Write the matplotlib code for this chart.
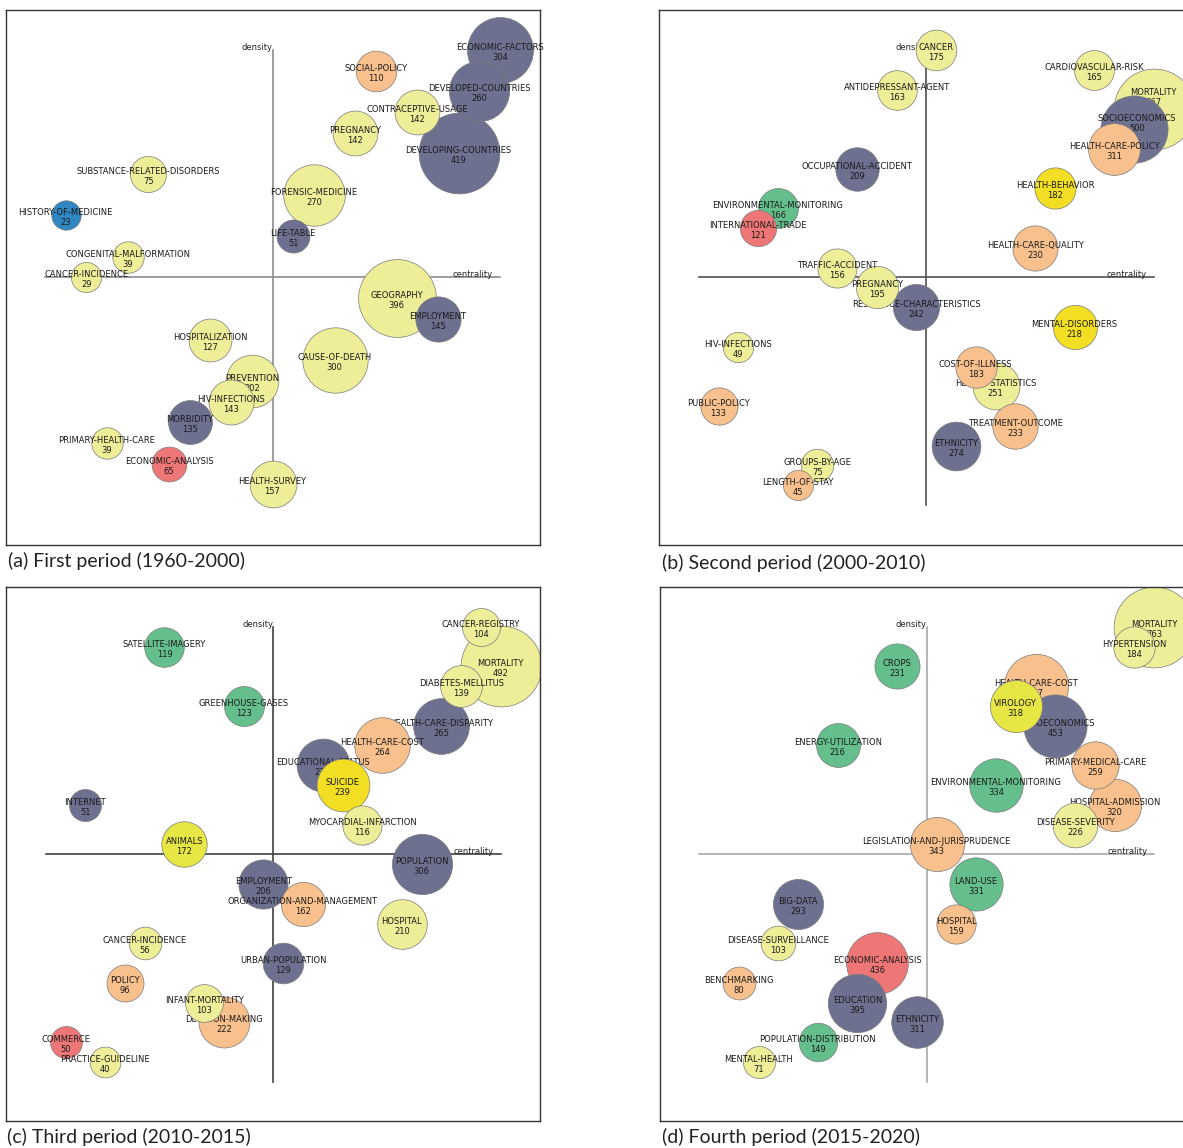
import numpy as np
import matplotlib.pyplot as plt

# strategic diagrams, four periods
# each theme: name, number of documents, centrality rank, density rank, cluster group

names_a = ["ECONOMIC-FACTORS", "SOCIAL-POLICY", "DEVELOPED-COUNTRIES", "CONTRACEPTIVE-USAGE",
           "PREGNANCY", "DEVELOPING-COUNTRIES", "SUBSTANCE-RELATED-DISORDERS", "FORENSIC-MEDICINE",
           "HISTORY-OF-MEDICINE", "LIFE-TABLE", "CONGENITAL-MALFORMATION", "CANCER-INCIDENCE",
           "GEOGRAPHY", "EMPLOYMENT", "HOSPITALIZATION", "CAUSE-OF-DEATH", "PREVENTION",
           "HIV-INFECTIONS", "MORBIDITY", "PRIMARY-HEALTH-CARE", "ECONOMIC-ANALYSIS", "HEALTH-SURVEY"]
docs_a = [304, 110, 260, 142, 142, 419, 75, 270, 23, 51, 39, 29, 396, 145, 127, 300, 202, 143, 135, 39, 65, 157]
cent_a = [22, 16, 21, 18, 15, 20, 5, 13, 1, 12, 4, 2, 17, 19, 8, 14, 10, 9, 7, 3, 6, 11]
dens_a = [22, 21, 20, 19, 18, 17, 16, 15, 14, 13, 12, 11, 10, 9, 8, 7, 6, 5, 4, 3, 2, 1]
group_a = ["slate", "orange", "slate", "khaki", "khaki", "slate", "khaki", "khaki", "blue", "slate",
           "khaki", "khaki", "khaki", "slate", "khaki", "khaki", "khaki", "khaki", "slate", "khaki",
           "red", "khaki"]

names_b = ["CANCER", "CARDIOVASCULAR-RISK", "ANTIDEPRESSANT-AGENT", "MORTALITY", "SOCIOECONOMICS",
           "HEALTH-CARE-POLICY", "OCCUPATIONAL-ACCIDENT", "HEALTH-BEHAVIOR", "ENVIRONMENTAL-MONITORING",
           "INTERNATIONAL-TRADE", "HEALTH-CARE-QUALITY", "TRAFFIC-ACCIDENT", "PREGNANCY",
           "RESIDENCE-CHARACTERISTICS", "MENTAL-DISORDERS", "HIV-INFECTIONS", "COST-OF-ILLNESS",
           "HEALTH-STATISTICS", "PUBLIC-POLICY", "TREATMENT-OUTCOME", "ETHNICITY", "GROUPS-BY-AGE",
           "LENGTH-OF-STAY"]
docs_b = [175, 165, 163, 667, 500, 311, 209, 182, 166, 121, 230, 156, 195, 242, 218, 49, 183, 251, 133, 233, 274, 75, 45]
cent_b = [12, 20, 10, 23, 22, 21, 8, 18, 4, 3, 17, 7, 9, 11, 19, 2, 14, 15, 1, 16, 13, 6, 5]
dens_b = [23, 22, 21, 20, 19, 18, 17, 16, 15, 14, 13, 12, 11, 10, 9, 8, 7, 6, 5, 4, 3, 2, 1]
group_b = ["khaki", "khaki", "khaki", "khaki", "slate", "orange", "slate", "gold", "green", "red",
           "orange", "khaki", "khaki", "slate", "gold", "khaki", "orange", "khaki", "orange", "orange",
           "slate", "khaki", "orange"]

names_c = ["CANCER-REGISTRY", "SATELLITE-IMAGERY", "MORTALITY", "DIABETES-MELLITUS", "GREENHOUSE-GASES",
           "HEALTH-CARE-DISPARITY", "HEALTH-CARE-COST", "EDUCATIONAL-STATUS", "SUICIDE", "INTERNET",
           "MYOCARDIAL-INFARCTION", "ANIMALS", "POPULATION", "EMPLOYMENT", "ORGANIZATION-AND-MANAGEMENT",
           "HOSPITAL", "CANCER-INCIDENCE", "URBAN-POPULATION", "POLICY", "INFANT-MORTALITY",
           "DECISION-MAKING", "COMMERCE", "PRACTICE-GUIDELINE"]
docs_c = [104, 119, 492, 139, 123, 265, 264, 239, 239, 51, 116, 172, 306, 206, 162, 210, 56, 129, 96, 103, 222, 50, 40]
cent_c = [22, 6, 23, 21, 10, 20, 17, 14, 15, 2, 16, 7, 19, 11, 13, 18, 5, 12, 4, 8, 9, 1, 3]
dens_c = [23, 22, 21, 20, 19, 18, 17, 16, 15, 14, 13, 12, 11, 10, 9, 8, 7, 6, 5, 4, 3, 2, 1]
group_c = ["khaki", "green", "khaki", "khaki", "green", "slate", "orange", "slate", "gold", "slate",
           "khaki", "lime", "slate", "slate", "orange", "khaki", "khaki", "slate", "orange", "khaki",
           "orange", "red", "khaki"]

names_d = ["MORTALITY", "HYPERTENSION", "CROPS", "HEALTH-CARE-COST", "VIROLOGY", "SOCIOECONOMICS",
           "ENERGY-UTILIZATION", "PRIMARY-MEDICAL-CARE", "ENVIRONMENTAL-MONITORING", "HOSPITAL-ADMISSION",
           "DISEASE-SEVERITY", "LEGISLATION-AND-JURISPRUDENCE", "LAND-USE", "BIG-DATA", "HOSPITAL",
           "DISEASE-SURVEILLANCE", "ECONOMIC-ANALYSIS", "BENCHMARKING", "EDUCATION", "ETHNICITY",
           "POPULATION-DISTRIBUTION", "MENTAL-HEALTH"]
docs_d = [763, 184, 231, 467, 318, 453, 216, 259, 334, 320, 226, 343, 331, 293, 159, 103, 436, 80, 395, 311, 149, 71]
cent_d = [23, 22, 10, 17, 16, 18, 7, 20, 15, 21, 19, 12, 14, 5, 13, 4, 9, 2, 8, 11, 6, 3]
dens_d = [23, 22, 21, 20, 19, 18, 17, 16, 15, 14, 13, 12, 10, 9, 8, 7, 6, 5, 4, 3, 2, 1]
group_d = ["khaki", "khaki", "green", "orange", "lime", "slate", "green", "orange", "green", "orange",
           "khaki", "orange", "green", "slate", "orange", "khaki", "red", "orange", "slate", "slate",
           "green", "khaki"]

n_themes = [22, 23, 23, 23]          # themes ranked in each period
size_ref = [419, 667, 492, 672]      # documents giving the largest bubble
captions = ["(a) First period (1960-2000)", "(b) Second period (2000-2010)",
            "(c) Third period (2010-2015)", "(d) Fourth period (2015-2020)"]

colors = {"slate": "#6e7090", "khaki": "#eeed98", "orange": "#f8c08c", "red": "#ef7676",
          "blue": "#2f86c0", "green": "#64bf8c", "gold": "#f2df24", "lime": "#e6e645"}

# labels moved off the bubble centre in the original (points)
label_shift = {(1, "MORTALITY"): (0, 10), (1, "SOCIOECONOMICS"): (2, 5.5)}

W, H = 1183, 1148
fig = plt.figure(figsize=(W / 100, H / 100), dpi=100)

# axes boxes in pixels (left, top), side 534
boxes = [(5.5, 10.5), (659.3, 10.5), (6.3, 587.3), (659.7, 587.3)]
cap_pos = [(7.5, 561), (661.5, 562.5), (7, 1137), (661.5, 1137)]
line_col = ["#8c8c8c", "#505050", "#404040", "#a8a8a8"]
side = 534.0
half = side / 2 / 455.0   # lines span -0.5..0.5 (455 px)
fs = 6.0

panels = [(names_a, docs_a, cent_a, dens_a, group_a),
          (names_b, docs_b, cent_b, dens_b, group_b),
          (names_c, docs_c, cent_c, dens_c, group_c),
          (names_d, docs_d, cent_d, dens_d, group_d)]

for k, (names, docs, cent, dens, group) in enumerate(panels):
    left, top = boxes[k]
    ax = fig.add_axes([left / W, 1 - (top + side) / H, side / W, side / H])
    ax.set_xlim(-half, half)
    ax.set_ylim(-half, half)
    ax.set_xticks([])
    ax.set_yticks([])
    for sp in ax.spines.values():
        sp.set_color("#333333")
        sp.set_linewidth(1.0)

    # axes of the strategic diagram
    ax.plot([-0.5, 0.5], [0, 0], color=line_col[k], lw=1.2, zorder=1)
    ax.plot([0, 0], [-0.5, 0.5], color=line_col[k], lw=1.2, zorder=1)
    ax.text(0, 0.5, "density", ha="right", va="baseline", fontsize=fs, color="#222222", zorder=1)
    ax.text(0.5 - 7 / 455, 0, "centrality", ha="right", va="baseline", fontsize=fs,
            color="#222222", zorder=1)

    N = n_themes[k]
    x = np.array(cent) / N - 0.5
    y = np.array(dens) / N - 0.5
    docs = np.array(docs)
    r_px = 13.2 + 27.2 * np.minimum(docs / size_ref[k], 1.0)

    order = sorted(range(len(names)), key=lambda i: -docs[i])   # big bubbles at the back
    for j, i in enumerate(order):
        z = 2 + 2 * j
        dx, dy = label_shift.get((k, names[i]), (0, 0))
        ax.scatter(x[i], y[i], s=(1.44 * r_px[i]) ** 2, color=colors[group[i]],
                   edgecolor="#7a7a7a", linewidth=0.5, zorder=z)
        ax.annotate(names[i], (x[i], y[i]), xytext=(dx, dy), textcoords="offset points",
                    ha="center", va="baseline", fontsize=fs, color="#1a1a1a", zorder=z + 1)
        ax.annotate(str(docs[i]), (x[i], y[i]), xytext=(dx, dy - 7.2), textcoords="offset points",
                    ha="center", va="baseline", fontsize=fs, color="#1a1a1a", zorder=z + 1)

    fig.text(cap_pos[k][0] / W, 1 - cap_pos[k][1] / H, captions[k], family="Lato",
             fontsize=14, color="#222222", ha="left", va="center")

fig.savefig("out.png", dpi=100)
